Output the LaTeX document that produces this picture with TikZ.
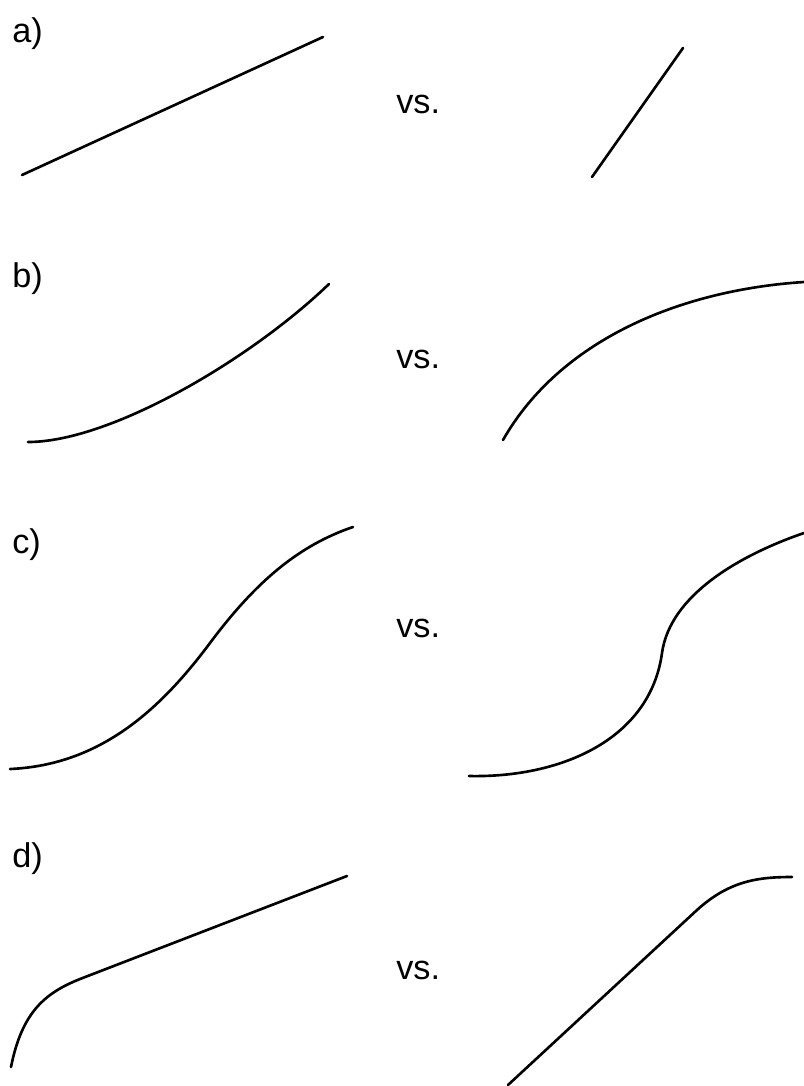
\documentclass[tikz,border=0pt]{standalone}
\usepackage{fontspec}
\setmainfont{Liberation Sans}
\usepackage{tikz}

\tikzset{
  lbl/.style={anchor=base west, inner sep=0pt, font=\fontsize{19.5}{22}\selectfont},
  curve/.style={line width=1.5pt, line cap=round}
}

\begin{document}
\begin{tikzpicture}[x=0.02cm, y=-0.02cm]
\useasboundingbox (0,0) rectangle (804,1086);
% labels and vs.
\foreach \lab/\yb/\yv in {a/42/113, b/287/368, c/553/637, d/867/979} {
  \node[lbl] (lab\lab) at (12,\yb) {\lab)};
  \node[lbl] (vs\lab) at (396,\yv) {vs.};
}
% a)
\draw[curve] (22,175) -- (323,37);
\draw[curve] (592,177) -- (683,48);
% b)
\draw[curve] (28,442) .. controls (110,442) and (250,360) .. (329,284);
\draw[curve] (503,440) .. controls (560,340) and (680,290) .. (804,282);
% c)
\draw[curve] (10,769) .. controls (100,765) and (160,710) .. (210,643)
  .. controls (257,580) and (300,545) .. (353,527);
\draw[curve] (469,776) .. controls (560,778) and (650,740) .. (662,653)
  .. controls (670,595) and (740,555) .. (804,533);
% d)
\draw[curve] (11,1067) .. controls (22,1012) and (45,993) .. (80,979) -- (347,876);
\draw[curve] (508,1085) -- (697,910) .. controls (730,880) and (760,877) .. (792,877);
\end{tikzpicture}
\end{document}
